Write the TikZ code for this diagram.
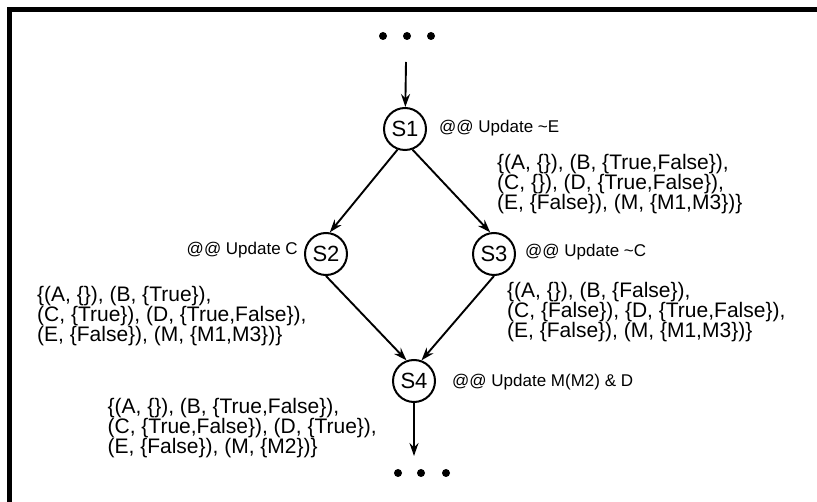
\documentclass[tikz,border=0pt]{standalone}
\usepackage{fontspec}
\setmainfont{Liberation Sans}
\usetikzlibrary{arrows.meta}

\begin{document}
\begin{tikzpicture}[x=1pt, y=-1pt,
   state/.style={draw, circle, line width=2pt, minimum size=42pt, inner sep=0pt,
                 font=\fontsize{22}{22}\selectfont},
   dotn/.style={circle, fill, inner sep=0pt, minimum size=8pt},
   note/.style={inner sep=0pt, font=\fontsize{17}{17}\selectfont},
   sets/.style={inner sep=0pt, align=left, font=\fontsize{21}{20}\selectfont},
   flow/.style={-{Stealth[length=13pt,width=9pt]}, line width=1.9pt}]

\useasboundingbox (0,0) rectangle (817,502);
\draw[line width=4.3pt] (9.5,502) -- (9.5,9.5) -- (817,9.5);

% states
\node[state] (s1) at (405,129) {S1};
\node[state] (s2) at (326,254) {S2};
\node[state] (s3) at (494,254) {S3};
\node[state] (s4) at (414,381) {S4};

% dots above and below
\node[dotn] (d1) at (383,36) {};
\node[dotn] (d2) at (407,36) {};
\node[dotn] (d3) at (431,36) {};
\node[dotn] (d4) at (398,473) {};
\node[dotn] (d5) at (421,473) {};
\node[dotn] (d6) at (446,473) {};
\coordinate (in) at (406,62);
\coordinate (out) at (414,456);

% updates
\node[note, anchor=west] (u1) at (439,128) {@@ Update \textasciitilde E};
\node[note, anchor=east] (u2) at (298,250) {@@ Update C};
\node[note, anchor=west] (u3) at (525,252) {@@ Update \textasciitilde C};
\node[note, anchor=west] (u4) at (452,382) {@@ Update M(M2) \& D};

% value sets
\node[sets, anchor=west] (v1) at (497,184)
   {\{(A, \{\}), (B, \{True,False\}),\\ (C, \{\}), (D, \{True,False\}),\\ (E, \{False\}), (M, \{M1,M3\})\}};
\node[sets, anchor=west] (v2) at (37,316)
   {\{(A, \{\}), (B, \{True\}),\\ (C, \{True\}), (D, \{True,False\}),\\ (E, \{False\}), (M, \{M1,M3\})\}};
\node[sets, anchor=west] (v3) at (507,312)
   {\{(A, \{\}), (B, \{False\}),\\ (C, \{False\}), \{D, \{True,False\}),\\ (E, \{False\}), (M, \{M1,M3\})\}};
\node[sets, anchor=east] (v4) at (377,428)
   {\{(A, \{\}), (B, \{True,False\}),\\ (C, \{True,False\}), (D, \{True\}),\\ (E, \{False\}), (M, \{M2\})\}};

% flow
\draw[flow] (in) -- (s1);
\draw[flow] (s1.250) -- (s2.80);
\draw[flow] (s1.290) -- (s3.100);
\draw[flow] (s2.south) -- (s4.110);
\draw[flow] (s3.south) -- (s4.70);
\draw[flow] (s4) -- (out);

\end{tikzpicture}
\end{document}
